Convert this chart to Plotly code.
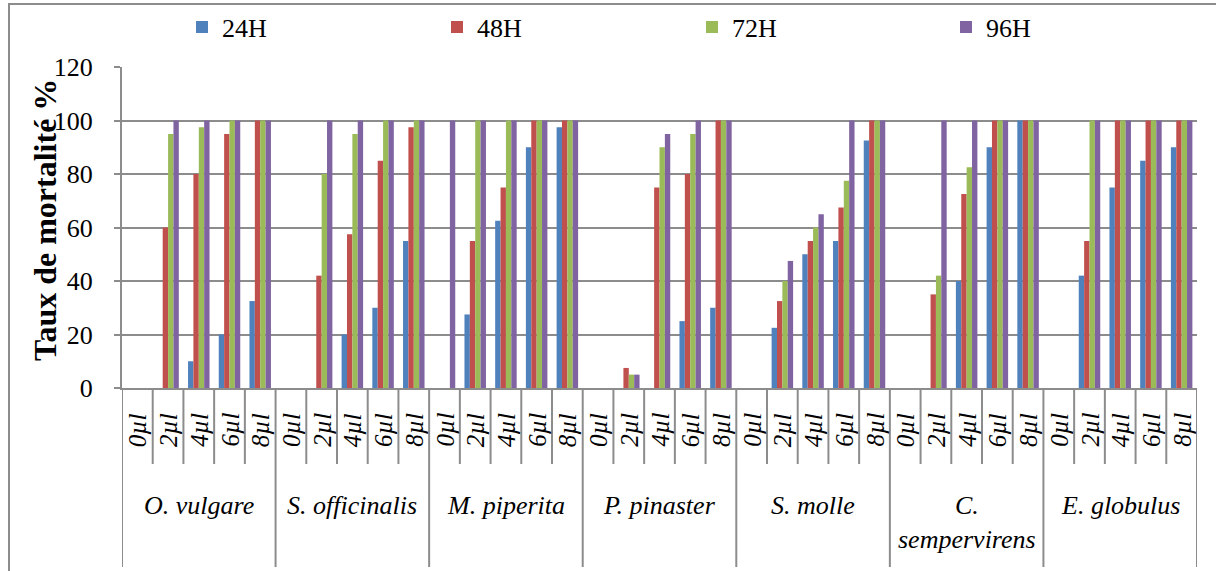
import plotly.graph_objects as go

species = ["O. vulgare", "S. officinalis", "M. piperita", "P. pinaster",
           "S. molle", "C.<br>sempervirens", "E. globulus"]
doses = ["0µl", "2µl", "4µl", "6µl", "8µl"]
series_names = ["24H", "48H", "72H", "96H"]

h24 = [0, 0, 10, 20, 32.5,
       0, 0, 20, 30, 55,
       0, 27.5, 62.5, 90, 97.5,
       0, 0, 0, 25, 30,
       0, 22.5, 50, 55, 92.5,
       0, 0, 40, 90, 100,
       0, 42, 75, 85, 90]
h48 = [0, 60, 80, 95, 100,
       0, 42, 57.5, 85, 97.5,
       0, 55, 75, 100, 100,
       0, 7.5, 75, 80, 100,
       0, 32.5, 55, 67.5, 100,
       0, 35, 72.5, 100, 100,
       0, 55, 100, 100, 100]
h72 = [0, 95, 97.5, 100, 100,
       0, 80, 95, 100, 100,
       0, 100, 100, 100, 100,
       0, 5, 90, 95, 100,
       0, 40, 60, 77.5, 100,
       0, 42, 82.5, 100, 100,
       0, 100, 100, 100, 100]
h96 = [0, 100, 100, 100, 100,
       0, 100, 100, 100, 100,
       100, 100, 100, 100, 100,
       0, 5, 95, 100, 100,
       0, 47.5, 65, 100, 100,
       0, 100, 100, 100, 100,
       0, 100, 100, 100, 100]
y_ticks = [0, 20, 40, 60, 80, 100, 120]

colors = ["#4F81BD", "#C0504D", "#9BBB59", "#8064A2"]
FONT = "Liberation Serif"
GRAY = "#8c8c8c"

W, H = 1216, 571
L, R, T, B = 122, 1197, 67, 388
pw, ph = R - L, B - T

def py(pix):
    return (B - pix) / ph

def px(pix):
    return (pix - L) / pw

cats = [f"{s}|{d}" for s in species for d in doses]
legend_x = [182, 437, 692, 946]

fig = go.Figure()
legend_layouts = {}
for k, (name, vals, col) in enumerate(zip(series_names, [h24, h48, h72, h96], colors)):
    lname = "legend" if k == 0 else f"legend{k + 1}"
    fig.add_trace(go.Bar(x=cats, y=vals, name=name, legend=lname,
                         marker=dict(color=col, line=dict(width=0))))
    legend_layouts[lname] = dict(orientation="h", xref="container", yref="container",
                                 x=legend_x[k] / W, y=1 - 27 / H, xanchor="left", yanchor="middle",
                                 itemwidth=30, font=dict(family=FONT, size=26, color="black"),
                                 bgcolor="rgba(0,0,0,0)")

annotations = []
shapes = []
n = len(cats)
for i, c in enumerate(cats):
    d = doses[i % len(doses)]
    annotations.append(dict(x=i, y=py(430), xref="x", yref="paper", text=f"<i>{d}</i>",
                            textangle=-90, showarrow=False, xanchor="center", yanchor="middle",
                            font=dict(family=FONT, size=25, color="black")))
for k, s in enumerate(species):
    annotations.append(dict(x=k * 5 + 2, y=py(489), xref="x", yref="paper", text=f"<i>{s}</i>",
                            showarrow=False, xanchor="center", yanchor="top",
                            font=dict(family=FONT, size=26, color="black")))
annotations.append(dict(x=px(45), y=py(220), xref="paper", yref="paper",
                        text="<b>Taux de mortalité %</b>", textangle=-90, showarrow=False,
                        xanchor="center", yanchor="middle",
                        font=dict(family=FONT, size=32, color="black")))

for j in range(n + 1):
    grp = (j % 5 == 0)
    shapes.append(dict(type="line", xref="x", yref="paper", x0=j - 0.5, x1=j - 0.5,
                       y0=0, y1=py(567 if grp else 464), line=dict(color=GRAY, width=2)))
shapes.append(dict(type="rect", xref="paper", yref="paper", x0=px(9), x1=px(1240),
                   y0=py(4), y1=py(600), line=dict(color=GRAY, width=2), layer="below"))

fig.update_layout(
    width=W, height=H,
    margin=dict(l=L, r=W - R, t=T, b=H - B, pad=0, autoexpand=False),
    paper_bgcolor="white", plot_bgcolor="white",
    barmode="group", bargap=0.3, bargroupgap=0,
    font=dict(family=FONT, size=24, color="black"),
    showlegend=True,
    annotations=annotations, shapes=shapes,
    **legend_layouts,
)
fig.update_xaxes(type="category", range=[-0.5, n - 0.5], showticklabels=False,
                 showline=True, linecolor=GRAY, linewidth=2, ticks="", showgrid=False,
                 fixedrange=True)
fig.update_yaxes(range=[0, 120], tickvals=y_ticks, showgrid=True, gridcolor=GRAY, gridwidth=2,
                 showline=True, linecolor=GRAY, linewidth=2, ticks="outside", ticklen=6,
                 tickcolor=GRAY, tickwidth=2, ticklabelstandoff=16, zeroline=False,
                 tickfont=dict(family=FONT, size=26, color="black"))

fig.write_html("out.html", config={"displayModeBar": False},
               post_script="document.body.style.margin='0';")
